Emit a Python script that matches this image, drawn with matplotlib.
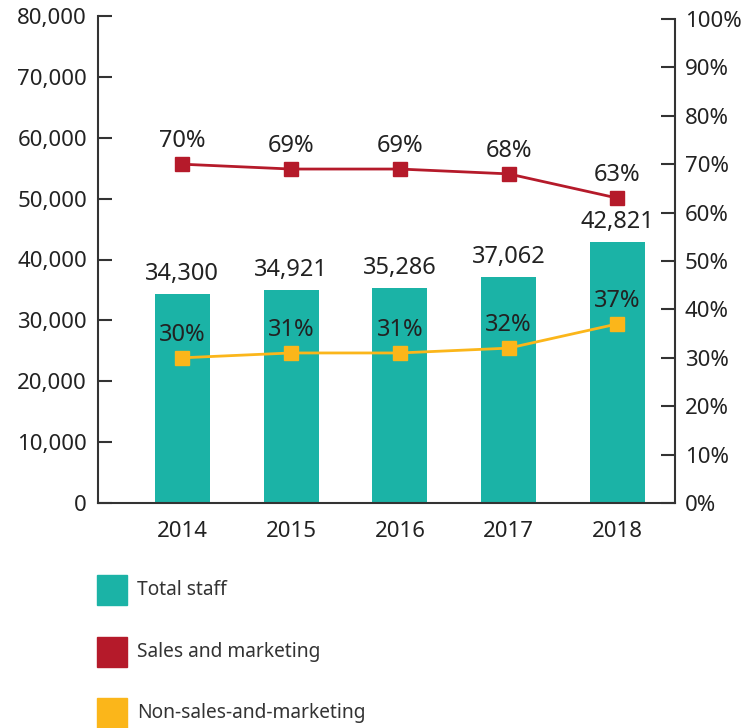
import matplotlib.pyplot as plt
from matplotlib.patches import Rectangle
import numpy as np

plt.rcParams['font.family'] = ['Noto Sans', 'DejaVu Sans']

# data
years = ['2014', '2015', '2016', '2017', '2018']
total_staff = [34300, 34921, 35286, 37062, 42821]
sales_pct = [70, 69, 69, 68, 63]
non_sales_pct = [30, 31, 31, 32, 37]

teal = '#1bb3a6'
red = '#b51a2a'
yellow = '#fbb61a'
txt = '#222222'
axcol = '#333333'

W, H = 749, 728
fig = plt.figure(figsize=(W / 100, H / 100), dpi=100)
ax = fig.add_axes([98 / W, (H - 503) / H, (675 - 98) / W, (503 - 16) / H])
ax2 = ax.twinx()

x = np.arange(len(years))
ax.bar(x, total_staff, width=0.505, color=teal, zorder=2)
for xi, v in zip(x, total_staff):
    ax.annotate(f'{v:,}', (xi, v), xytext=(0, 6), textcoords='offset points',
                ha='center', va='bottom', fontsize=17, color=txt)

ax.set_xlim(-0.775, 4.53)
ax.set_ylim(0, 80000)
ax.set_yticks(np.arange(0, 80001, 10000))
ax.set_yticklabels([f'{t:,}' for t in range(0, 80001, 10000)])
ax.set_xticks(x)
ax.set_xticklabels(years)

ax2.plot(x, sales_pct, color=red, lw=2, marker='s', ms=9.6, zorder=3)
ax2.plot(x, non_sales_pct, color=yellow, lw=2, marker='s', ms=9.6, zorder=3)
for xi, v in zip(x, sales_pct):
    ax2.annotate(f'{v}%', (xi, v), xytext=(0, 8), textcoords='offset points',
                 ha='center', va='bottom', fontsize=17, color=txt)
for xi, v in zip(x, non_sales_pct):
    ax2.annotate(f'{v}%', (xi, v), xytext=(0, 8), textcoords='offset points',
                 ha='center', va='bottom', fontsize=17, color=txt)
# right axis tops out a little lower than the left one
ax2.set_ylim(0, 100 * 487 / 484)
ax2.set_yticks(np.arange(0, 101, 10))
ax2.set_yticklabels([f'{t}%' for t in range(0, 101, 10)])
ax2.spines['right'].set_bounds(0, 100)

for a in (ax, ax2):
    a.spines['top'].set_visible(False)
    for s in a.spines.values():
        s.set_color(axcol)
        s.set_linewidth(1.5)
ax.spines['right'].set_visible(False)
ax2.spines['left'].set_visible(False)
ax2.spines['bottom'].set_visible(False)

ax.tick_params(axis='y', direction='in', length=10, width=1.5, color=axcol,
               pad=8, labelsize=16, labelcolor=txt)
ax.tick_params(axis='x', length=0, pad=13, labelsize=16, labelcolor=txt)
ax2.tick_params(axis='y', direction='in', length=10, width=1.5, color=axcol,
                pad=7, labelsize=16, labelcolor=txt)

# legend drawn as squares with text below the chart
legend_items = [('Total staff', teal), ('Sales and marketing', red),
                ('Non-sales-and-marketing', yellow)]
for i, (label, col) in enumerate(legend_items):
    top = 575 + i * 61.5
    fig.add_artist(Rectangle((97 / W, (H - top - 30) / H), 30 / W, 30 / H,
                             transform=fig.transFigure, color=col))
    fig.text(137 / W, (H - top - 15) / H, label, fontsize=13.8, color='#333333',
             va='center', ha='left')

fig.savefig('out.png', dpi=100)
